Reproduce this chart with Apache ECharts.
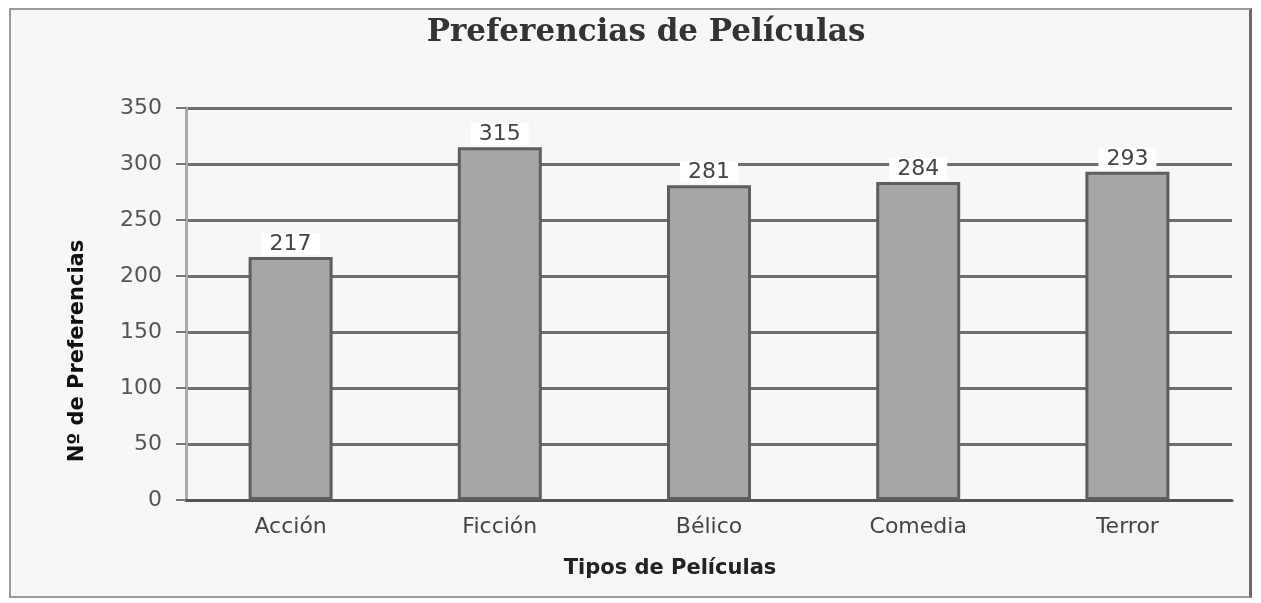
<!DOCTYPE html>
<html>
<head>
<meta charset="utf-8">
<script src="https://cdn.jsdelivr.net/npm/echarts@6/dist/echarts.min.js"></script>
<style>
html,body{margin:0;padding:0;background:#ffffff;}
#frame{position:absolute;left:9px;top:8px;width:1243px;height:590px;border:2px solid #9a9a9a;border-right:3px solid #6a6a6a;background:#f7f7f7;box-sizing:border-box;}
#chart{position:absolute;left:0;top:0;width:1261px;height:603px;}
</style>
</head>
<body>
<div id="frame"></div>
<div id="chart"></div>
<script>
const categories = ['Acción', 'Ficción', 'Bélico', 'Comedia', 'Terror'];
const preferences = [217, 315, 281, 284, 293];
const yTicks = { min: 0, max: 350, interval: 50 };

const chart = echarts.init(document.getElementById('chart'));
chart.setOption({
  backgroundColor: 'transparent',
  animation: false,
  title: {
    text: 'Preferencias de Películas',
    left: 641, top: 12, textAlign: 'center',
    textStyle: { fontFamily: 'DejaVu Serif', fontWeight: 'bold', fontSize: 31, color: '#333' }
  },
  grid: { left: 186, right: 29, top: 108, bottom: 103 },
  xAxis: {
    type: 'category',
    data: categories,
    name: 'Tipos de Películas',
    nameLocation: 'middle',
    nameGap: 58,
    nameTextStyle: { fontFamily: 'DejaVu Sans', fontWeight: 'bold', fontSize: 21, color: '#222', padding: [0, 78, 0, 0] },
    axisLine: { lineStyle: { color: '#555', width: 3 } },
    axisTick: { show: false },
    axisLabel: { fontFamily: 'DejaVu Sans', fontSize: 22, color: '#444', margin: 16 }
  },
  yAxis: {
    type: 'value',
    min: yTicks.min, max: yTicks.max, interval: yTicks.interval,
    name: 'Nº de Preferencias',
    nameLocation: 'middle',
    nameGap: 98,
    nameTextStyle: { fontFamily: 'DejaVu Sans', fontWeight: 'bold', fontSize: 21, color: '#111', padding: [0, 94, 0, 0] },
    axisLine: { show: true, lineStyle: { color: '#aaa', width: 3 } },
    axisTick: { show: true, length: 10, lineStyle: { color: '#777', width: 2 } },
    axisLabel: { fontFamily: 'DejaVu Sans', fontSize: 22, color: '#555', margin: 24 },
    splitLine: { lineStyle: { color: '#6e6e6e', width: 3 } }
  },
  series: [{
    type: 'bar',
    data: preferences,
    barWidth: 84,
    itemStyle: { color: '#a6a6a6', borderColor: '#5e5e5e', borderWidth: 3 },
    label: {
      show: true, position: 'top', distance: 2,
      fontFamily: 'DejaVu Sans', fontSize: 22, color: '#444',
      backgroundColor: '#ffffff', padding: [0, 8]
    }
  }]
});
</script>
</body>
</html>
